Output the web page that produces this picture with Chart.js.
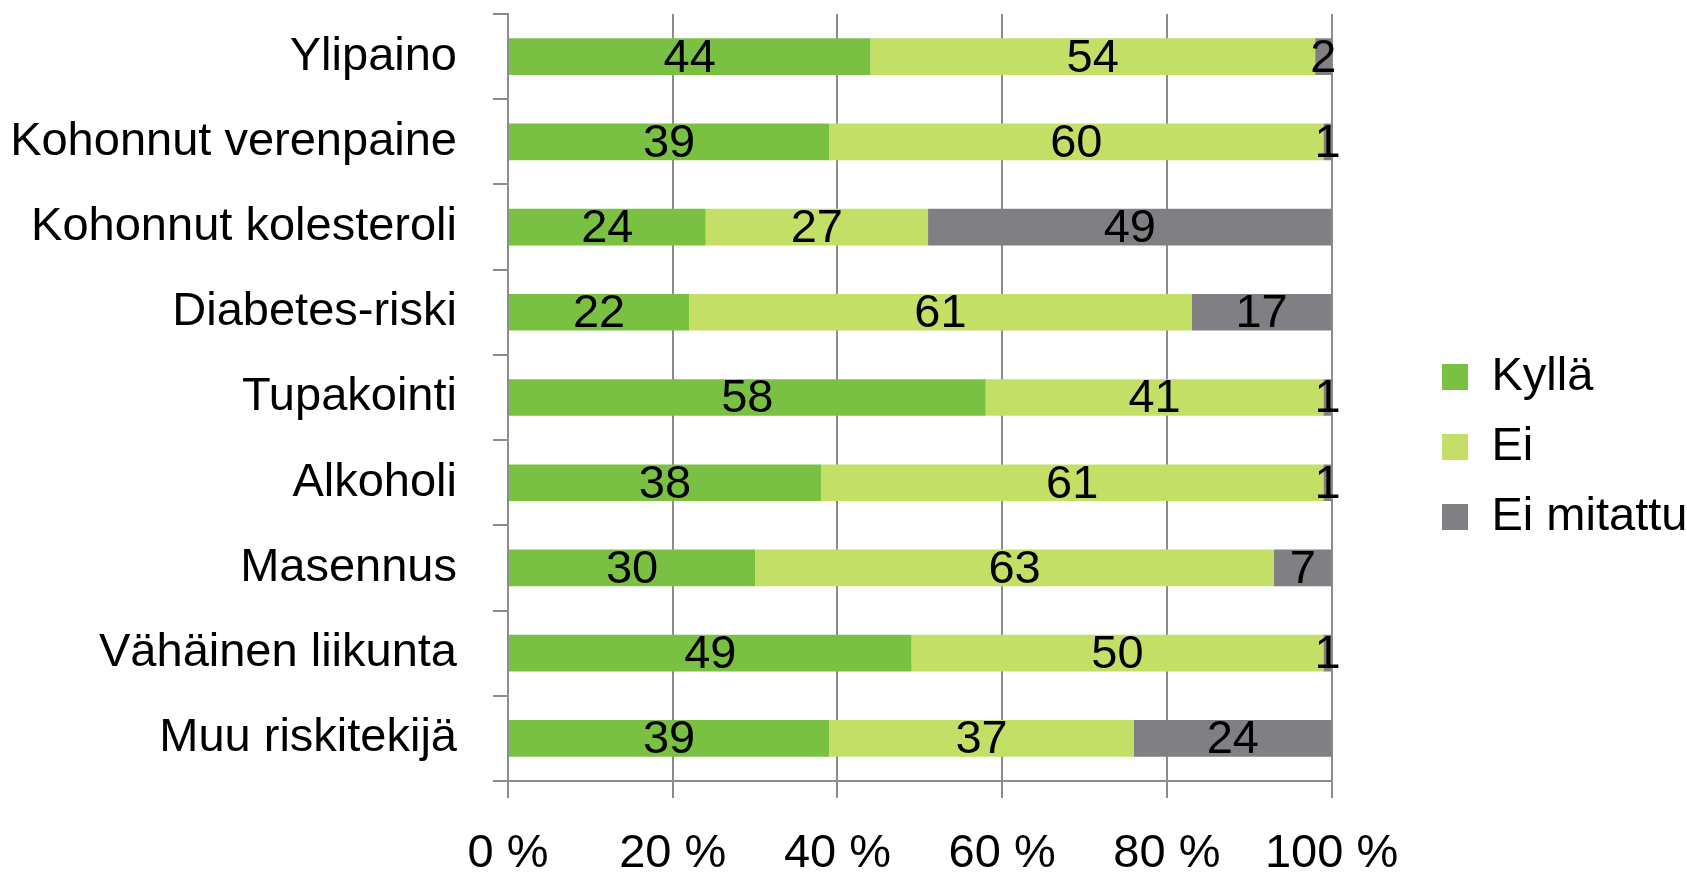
<!DOCTYPE html>
<html>
<head>
<meta charset="utf-8">
<script src="https://cdn.jsdelivr.net/npm/chart.js@4.4.1/dist/chart.umd.min.js"></script>
<style>
html, body { margin: 0; padding: 0; background: #ffffff; }
#wrap { width: 1687px; height: 872px; }
</style>
</head>
<body>
<div id="wrap"><canvas id="c" width="1687" height="872"></canvas></div>
<script>
const categories = ["Ylipaino", "Kohonnut verenpaine", "Kohonnut kolesteroli", "Diabetes-riski", "Tupakointi", "Alkoholi", "Masennus", "Vähäinen liikunta", "Muu riskitekijä"];
const kylla = [44, 39, 24, 22, 58, 38, 30, 49, 39];
const ei = [54, 60, 27, 61, 41, 61, 63, 50, 37];
const eiMitattu = [2, 1, 49, 17, 1, 1, 7, 1, 24];
const seriesNames = ["Kyllä", "Ei", "Ei mitattu"];
const seriesColors = ["#7AC143", "#C4DF66", "#808084"];
const xTickLabels = ["0 %", "20 %", "40 %", "60 %", "80 %", "100 %"];

const FONT = "'Liberation Sans', Arial, sans-serif";
const GRID = "#8C8C8C";

const valueLabels = {
  id: 'valueLabels',
  afterDatasetsDraw(chart) {
    const ctx = chart.ctx;
    ctx.save();
    ctx.font = "47px " + FONT;
    ctx.fillStyle = "#000000";
    ctx.textAlign = "center";
    ctx.textBaseline = "middle";
    chart.data.datasets.forEach((ds, di) => {
      const meta = chart.getDatasetMeta(di);
      meta.data.forEach((el, i) => {
        const p = el.getProps(['x', 'base', 'y'], true);
        ctx.fillText(String(ds.data[i]), (p.x + p.base) / 2, p.y + 2);
      });
    });
    ctx.restore();
  }
};

const legendShift = {
  id: 'legendShift',
  afterLayout(chart) {
    const lg = chart.legend;
    if (!lg) return;
    const targetLeft = 1442 - lg.options.labels.padding;
    const dx = targetLeft - lg.left;
    lg.left += dx; lg.right += dx;
    lg.top += 4; lg.bottom += 4;
  }
};

new Chart(document.getElementById('c'), {
  type: 'bar',
  data: {
    labels: categories,
    datasets: [
      { label: seriesNames[0], data: kylla, backgroundColor: seriesColors[0] },
      { label: seriesNames[1], data: ei, backgroundColor: seriesColors[1] },
      { label: seriesNames[2], data: eiMitattu, backgroundColor: seriesColors[2] }
    ]
  },
  options: {
    indexAxis: 'y',
    responsive: false,
    animation: false,
    devicePixelRatio: 1,
    categoryPercentage: 1.0,
    barPercentage: 0.43,
    layout: { padding: { top: 14, right: 77, bottom: 0, left: 0 } },
    plugins: {
      tooltip: { enabled: false },
      legend: {
        position: 'right',
        align: 'center',
        labels: {
          boxWidth: 26,
          boxHeight: 26,
          padding: 23,
          color: '#000000',
          font: { family: FONT, size: 47 }
        }
      }
    },
    scales: {
      x: {
        stacked: true,
        min: 0,
        max: 100,
        afterBuildTicks(scale) {
          scale.ticks = xTickLabels.map((t, i) => ({ value: i * 20 }));
        },
        afterFit(scale) { scale.height = 91; },
        grid: {
          color: GRID,
          lineWidth: 2,
          drawOnChartArea: true,
          drawTicks: true,
          tickLength: 17,
          tickColor: GRID
        },
        border: { display: true, color: GRID, width: 2 },
        ticks: {
          color: '#000000',
          padding: 28,
          maxRotation: 0,
          font: { family: FONT, size: 47 },
          callback: (v, i) => xTickLabels[i]
        }
      },
      y: {
        stacked: true,
        afterFit(scale) { scale.width = 508; scale.paddingTop = 0; scale.paddingBottom = 0; },
        grid: {
          offset: true,
          color: GRID,
          lineWidth: 2,
          drawOnChartArea: false,
          drawTicks: true,
          tickLength: 15,
          tickColor: GRID
        },
        border: { display: true, color: GRID, width: 2 },
        ticks: {
          color: '#000000',
          padding: 36,
          font: { family: FONT, size: 47 }
        }
      }
    }
  },
  plugins: [valueLabels, legendShift]
});
</script>
</body>
</html>
